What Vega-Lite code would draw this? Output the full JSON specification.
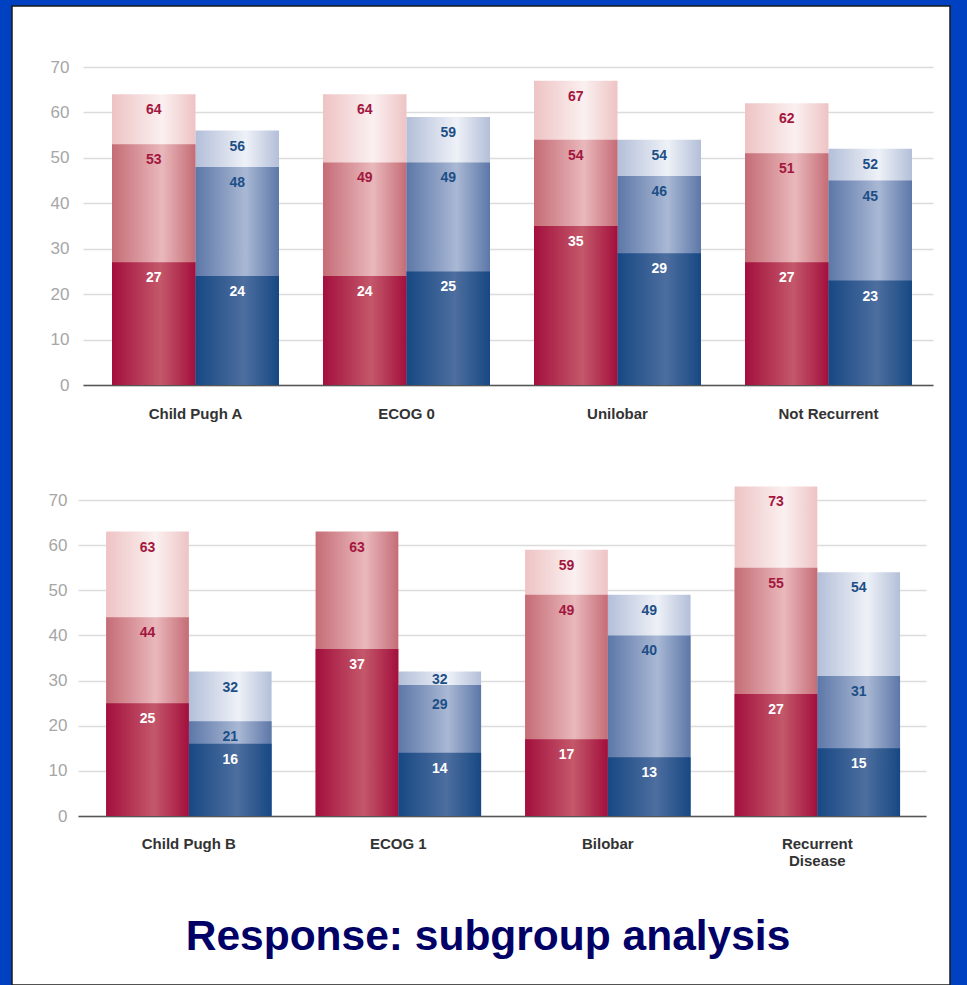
{
  "$schema": "https://vega.github.io/schema/vega-lite/v6.json",
  "width": 938,
  "height": 979,
  "autosize": "none",
  "padding": {"left": 12, "top": 6, "right": 17, "bottom": 0},
  "background": "#0041c2",
  "title": {
    "text": "Response: subgroup analysis",
    "orient": "bottom",
    "frame": "group",
    "anchor": "middle",
    "baseline": "alphabetic",
    "offset": -35,
    "dx": 7,
    "font": "Liberation Sans",
    "fontSize": 42.5,
    "fontWeight": "bold",
    "color": "#000066"
  },
  "data": {
    "values": [
      {"panel": "top", "group": "Child Pugh A", "arm": "A", "lvl": 1, "value": 64},
      {"panel": "top", "group": "Child Pugh A", "arm": "A", "lvl": 2, "value": 53},
      {"panel": "top", "group": "Child Pugh A", "arm": "A", "lvl": 3, "value": 27},
      {"panel": "top", "group": "Child Pugh A", "arm": "B", "lvl": 1, "value": 56},
      {"panel": "top", "group": "Child Pugh A", "arm": "B", "lvl": 2, "value": 48},
      {"panel": "top", "group": "Child Pugh A", "arm": "B", "lvl": 3, "value": 24},
      {"panel": "top", "group": "ECOG 0", "arm": "A", "lvl": 1, "value": 64},
      {"panel": "top", "group": "ECOG 0", "arm": "A", "lvl": 2, "value": 49},
      {"panel": "top", "group": "ECOG 0", "arm": "A", "lvl": 3, "value": 24},
      {"panel": "top", "group": "ECOG 0", "arm": "B", "lvl": 1, "value": 59},
      {"panel": "top", "group": "ECOG 0", "arm": "B", "lvl": 2, "value": 49},
      {"panel": "top", "group": "ECOG 0", "arm": "B", "lvl": 3, "value": 25},
      {"panel": "top", "group": "Unilobar", "arm": "A", "lvl": 1, "value": 67},
      {"panel": "top", "group": "Unilobar", "arm": "A", "lvl": 2, "value": 54},
      {"panel": "top", "group": "Unilobar", "arm": "A", "lvl": 3, "value": 35},
      {"panel": "top", "group": "Unilobar", "arm": "B", "lvl": 1, "value": 54},
      {"panel": "top", "group": "Unilobar", "arm": "B", "lvl": 2, "value": 46},
      {"panel": "top", "group": "Unilobar", "arm": "B", "lvl": 3, "value": 29},
      {"panel": "top", "group": "Not Recurrent", "arm": "A", "lvl": 1, "value": 62},
      {"panel": "top", "group": "Not Recurrent", "arm": "A", "lvl": 2, "value": 51},
      {"panel": "top", "group": "Not Recurrent", "arm": "A", "lvl": 3, "value": 27},
      {"panel": "top", "group": "Not Recurrent", "arm": "B", "lvl": 1, "value": 52},
      {"panel": "top", "group": "Not Recurrent", "arm": "B", "lvl": 2, "value": 45},
      {"panel": "top", "group": "Not Recurrent", "arm": "B", "lvl": 3, "value": 23},
      {"panel": "bottom", "group": "Child Pugh B", "arm": "A", "lvl": 1, "value": 63},
      {"panel": "bottom", "group": "Child Pugh B", "arm": "A", "lvl": 2, "value": 44},
      {"panel": "bottom", "group": "Child Pugh B", "arm": "A", "lvl": 3, "value": 25},
      {"panel": "bottom", "group": "Child Pugh B", "arm": "B", "lvl": 1, "value": 32},
      {"panel": "bottom", "group": "Child Pugh B", "arm": "B", "lvl": 2, "value": 21},
      {"panel": "bottom", "group": "Child Pugh B", "arm": "B", "lvl": 3, "value": 16},
      {"panel": "bottom", "group": "ECOG 1", "arm": "A", "lvl": 2, "value": 63},
      {"panel": "bottom", "group": "ECOG 1", "arm": "A", "lvl": 3, "value": 37},
      {"panel": "bottom", "group": "ECOG 1", "arm": "B", "lvl": 1, "value": 32},
      {"panel": "bottom", "group": "ECOG 1", "arm": "B", "lvl": 2, "value": 29},
      {"panel": "bottom", "group": "ECOG 1", "arm": "B", "lvl": 3, "value": 14},
      {"panel": "bottom", "group": "Bilobar", "arm": "A", "lvl": 1, "value": 59},
      {"panel": "bottom", "group": "Bilobar", "arm": "A", "lvl": 2, "value": 49},
      {"panel": "bottom", "group": "Bilobar", "arm": "A", "lvl": 3, "value": 17},
      {"panel": "bottom", "group": "Bilobar", "arm": "B", "lvl": 1, "value": 49},
      {"panel": "bottom", "group": "Bilobar", "arm": "B", "lvl": 2, "value": 40},
      {"panel": "bottom", "group": "Bilobar", "arm": "B", "lvl": 3, "value": 13},
      {"panel": "bottom", "group": "Recurrent Disease", "arm": "A", "lvl": 1, "value": 73},
      {"panel": "bottom", "group": "Recurrent Disease", "arm": "A", "lvl": 2, "value": 55},
      {"panel": "bottom", "group": "Recurrent Disease", "arm": "A", "lvl": 3, "value": 27},
      {"panel": "bottom", "group": "Recurrent Disease", "arm": "B", "lvl": 1, "value": 54},
      {"panel": "bottom", "group": "Recurrent Disease", "arm": "B", "lvl": 2, "value": 31},
      {"panel": "bottom", "group": "Recurrent Disease", "arm": "B", "lvl": 3, "value": 15}
    ]
  },
  "layer": [
    {
      "transform": [{"filter": "datum.panel == 'top'"}],
      "encoding": {
        "x": {
          "field": "group", "type": "nominal",
          "scale": {"domain": ["Child Pugh A", "ECOG 0", "Unilobar", "Not Recurrent"], "range": [71, 921], "paddingInner": 0.2085, "paddingOuter": 0.1185, "align": 0.58},
          "axis": {"orient": "bottom", "offset": -600, "title": null, "labelPadding": 21, "labelAngle": 0}
        },
        "xOffset": {"field": "arm", "type": "nominal", "scale": {"domain": ["A", "B"], "paddingInner": 0, "paddingOuter": 0}},
        "y": {
          "field": "value", "type": "quantitative", "stack": null,
          "scale": {"domain": [0, 70], "range": [379, 61], "nice": false},
          "axis": {"orient": "left", "offset": -71, "labelPadding": 14, "values": [0, 10, 20, 30, 40, 50, 60, 70], "title": null, "grid": true}
        },
        "text": {"field": "value", "type": "quantitative"},
        "fill": {
          "condition": [
            {"test": "datum.arm == 'A' && datum.lvl == 1", "value": {"gradient": "linear", "x1": 0, "y1": 0, "x2": 1, "y2": 0, "stops": [{"offset": 0, "color": "#eec3c4"}, {"offset": 0.6, "color": "#fbf0f0"}, {"offset": 1, "color": "#eec3c4"}]}},
            {"test": "datum.arm == 'A' && datum.lvl == 2", "value": {"gradient": "linear", "x1": 0, "y1": 0, "x2": 1, "y2": 0, "stops": [{"offset": 0, "color": "#c56c76"}, {"offset": 0.6, "color": "#e9b8bb"}, {"offset": 1, "color": "#c56c76"}]}},
            {"test": "datum.arm == 'A' && datum.lvl == 3", "value": {"gradient": "linear", "x1": 0, "y1": 0, "x2": 1, "y2": 0, "stops": [{"offset": 0, "color": "#a30f3d"}, {"offset": 0.58, "color": "#c4586a"}, {"offset": 1, "color": "#a30f3d"}]}},
            {"test": "datum.lvl == 1", "value": {"gradient": "linear", "x1": 0, "y1": 0, "x2": 1, "y2": 0, "stops": [{"offset": 0, "color": "#b3bfd9"}, {"offset": 0.6, "color": "#eef1f7"}, {"offset": 1, "color": "#b3bfd9"}]}},
            {"test": "datum.lvl == 2", "value": {"gradient": "linear", "x1": 0, "y1": 0, "x2": 1, "y2": 0, "stops": [{"offset": 0, "color": "#5c77a8"}, {"offset": 0.6, "color": "#a9b8d4"}, {"offset": 1, "color": "#5c77a8"}]}}
          ],
          "value": {"gradient": "linear", "x1": 0, "y1": 0, "x2": 1, "y2": 0, "stops": [{"offset": 0, "color": "#174883"}, {"offset": 0.58, "color": "#4d6e9f"}, {"offset": 1, "color": "#174883"}]}
        }
      },
      "layer": [
        {
          "mark": {"type": "bar"},
          "encoding": {
            "order": {"field": "lvl", "type": "quantitative", "sort": "ascending"}
          }
        },
        {
          "mark": {"type": "text", "baseline": "middle", "dy": 16, "font": "Liberation Sans", "fontSize": 14, "fontWeight": "bold"},
          "encoding": {
            "fill": {
              "condition": [
                {"test": "datum.lvl == 3", "value": "#ffffff"},
                {"test": "datum.arm == 'A'", "value": "#a3173f"}
              ],
              "value": "#1d4f86"
            }
          }
        }
      ]
    },
    {
      "transform": [{"filter": "datum.panel == 'bottom'"}],
      "encoding": {
        "x": {
          "field": "group", "type": "nominal",
          "scale": {"domain": ["Child Pugh B", "ECOG 1", "Bilobar", "Recurrent Disease"], "range": [66, 914], "paddingInner": 0.21, "paddingOuter": 0.129, "align": 0.52},
          "axis": {"orient": "bottom", "offset": -169, "title": null, "labelPadding": 20, "labelAngle": 0, "labelLineHeight": 17, "labelExpr": "datum.label == 'Recurrent Disease' ? ['Recurrent', 'Disease'] : datum.label"}
        },
        "xOffset": {"field": "arm", "type": "nominal", "scale": {"domain": ["A", "B"], "paddingInner": 0, "paddingOuter": 0}},
        "y": {
          "field": "value", "type": "quantitative", "stack": null,
          "scale": {"domain": [0, 70], "range": [810, 494], "nice": false},
          "axis": {"orient": "left", "offset": -66, "labelPadding": 11, "values": [0, 10, 20, 30, 40, 50, 60, 70], "title": null, "grid": true}
        },
        "text": {"field": "value", "type": "quantitative"},
        "fill": {
          "condition": [
            {"test": "datum.arm == 'A' && datum.lvl == 1", "value": {"gradient": "linear", "x1": 0, "y1": 0, "x2": 1, "y2": 0, "stops": [{"offset": 0, "color": "#eec3c4"}, {"offset": 0.6, "color": "#fbf0f0"}, {"offset": 1, "color": "#eec3c4"}]}},
            {"test": "datum.arm == 'A' && datum.lvl == 2", "value": {"gradient": "linear", "x1": 0, "y1": 0, "x2": 1, "y2": 0, "stops": [{"offset": 0, "color": "#c56c76"}, {"offset": 0.6, "color": "#e9b8bb"}, {"offset": 1, "color": "#c56c76"}]}},
            {"test": "datum.arm == 'A' && datum.lvl == 3", "value": {"gradient": "linear", "x1": 0, "y1": 0, "x2": 1, "y2": 0, "stops": [{"offset": 0, "color": "#a30f3d"}, {"offset": 0.58, "color": "#c4586a"}, {"offset": 1, "color": "#a30f3d"}]}},
            {"test": "datum.lvl == 1", "value": {"gradient": "linear", "x1": 0, "y1": 0, "x2": 1, "y2": 0, "stops": [{"offset": 0, "color": "#b3bfd9"}, {"offset": 0.6, "color": "#eef1f7"}, {"offset": 1, "color": "#b3bfd9"}]}},
            {"test": "datum.lvl == 2", "value": {"gradient": "linear", "x1": 0, "y1": 0, "x2": 1, "y2": 0, "stops": [{"offset": 0, "color": "#5c77a8"}, {"offset": 0.6, "color": "#a9b8d4"}, {"offset": 1, "color": "#5c77a8"}]}}
          ],
          "value": {"gradient": "linear", "x1": 0, "y1": 0, "x2": 1, "y2": 0, "stops": [{"offset": 0, "color": "#174883"}, {"offset": 0.58, "color": "#4d6e9f"}, {"offset": 1, "color": "#174883"}]}
        }
      },
      "layer": [
        {
          "mark": {"type": "bar"},
          "encoding": {
            "order": {"field": "lvl", "type": "quantitative", "sort": "ascending"}
          }
        },
        {
          "transform": [{"filter": "!(datum.group == 'ECOG 1' && datum.arm == 'B' && datum.lvl < 3)"}],
          "mark": {"type": "text", "baseline": "middle", "dy": 16, "font": "Liberation Sans", "fontSize": 14, "fontWeight": "bold"},
          "encoding": {
            "fill": {
              "condition": [
                {"test": "datum.lvl == 3", "value": "#ffffff"},
                {"test": "datum.arm == 'A'", "value": "#a3173f"}
              ],
              "value": "#1d4f86"
            }
          }
        },
        {
          "transform": [{"filter": "datum.group == 'ECOG 1' && datum.arm == 'B' && datum.lvl == 1"}],
          "mark": {"type": "text", "baseline": "middle", "dy": 8, "font": "Liberation Sans", "fontSize": 14, "fontWeight": "bold"},
          "encoding": {"fill": {"value": "#1d4f86"}}
        },
        {
          "transform": [{"filter": "datum.group == 'ECOG 1' && datum.arm == 'B' && datum.lvl == 2"}],
          "mark": {"type": "text", "baseline": "middle", "dy": 20, "font": "Liberation Sans", "fontSize": 14, "fontWeight": "bold"},
          "encoding": {"fill": {"value": "#1d4f86"}}
        }
      ]
    }
  ],
  "resolve": {
    "scale": {"x": "independent", "y": "independent", "xOffset": "independent"},
    "axis": {"x": "independent", "y": "independent"}
  },
  "config": {
    "view": {"fill": "#ffffff", "stroke": "#1a1a1a", "strokeWidth": 1.5},
    "axisY": {"domain": false, "ticks": false, "gridColor": "#dcdcdc", "gridWidth": 1.5, "labelColor": "#a6a6a6", "labelFont": "Liberation Sans", "labelFontSize": 17, "labelFontWeight": "normal"},
    "axisX": {"domain": true, "domainColor": "#555555", "domainWidth": 1.5, "ticks": false, "grid": false, "labelColor": "#333333", "labelFont": "Liberation Sans", "labelFontSize": 15, "labelFontWeight": "bold"},
    "bar": {"stroke": null}
  }
}
